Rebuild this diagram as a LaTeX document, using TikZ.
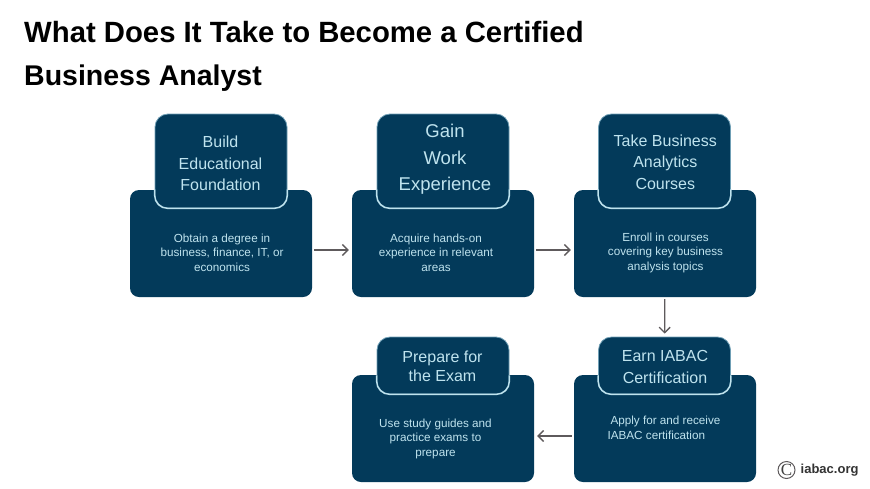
\documentclass[tikz,border=0pt]{standalone}
\usepackage{fontspec}
\setmainfont{Liberation Sans}
\newfontfamily\logoserif{Liberation Serif}
\usetikzlibrary{arrows.meta}
\definecolor{navy}{HTML}{033A5A}
\definecolor{pale}{HTML}{BFE3EE}
\definecolor{faint}{HTML}{6F9FB5}
\definecolor{arrowgrey}{HTML}{5E5A5C}
\tikzset{
  base/.style={fill=navy,rounded corners=9pt,minimum width=182pt,minimum height=107pt,inner sep=0pt},
  tab/.style={fill=navy,draw=faint,line width=.8pt,rounded corners=13pt,minimum width=132pt,inner sep=0pt},
  tabedge/.style={draw=pale,line width=1.4pt,rounded corners=13pt},
  tabtext/.style={text=pale,align=center,inner sep=0pt,font=\fontsize{16}{21.5}\selectfont},
  bigtext/.style={tabtext,font=\fontsize{18.5}{26.5}\selectfont},
  body/.style={text=pale,align=center,font=\fontsize{11.7}{14.5}\selectfont,inner sep=0pt},
  flow/.style={draw=arrowgrey,line width=1.3pt,shorten >=3pt,shorten <=2pt,-{Straight Barb[length=5.5pt,width=11pt]}},
  headline/.style={anchor=west,inner sep=0pt,text=black}
}
\begin{document}
\begin{tikzpicture}[x=1pt,y=-1pt]
\useasboundingbox (0,0) rectangle (870,488);
\node[headline,font=\fontsize{29.3}{30}\selectfont\bfseries] (t1) at (24,32) {What Does It Take to Become a Certified};
\node[headline,font=\fontsize{28.5}{30}\selectfont\bfseries] (t2) at (24,78) {Business Analyst};

\node[base] (b1) at (221,243.5) {};
\node[base] (b2) at (443,243.5) {};
\node[base] (b3) at (665,243.5) {};
\node[base] (b4) at (665,428.5) {};
\node[base] (b5) at (443,428.5) {};

\node[tab,minimum height=94pt] (h1) at (221,161) {};
\node[tab,minimum height=94pt] (h2) at (443,161) {};
\node[tab,minimum height=94pt] (h3) at (664.5,161) {};
\node[tab,minimum height=57pt] (h4) at (664.5,365.5) {};
\node[tab,minimum height=57pt] (h5) at (443,365.5) {};

\foreach \h in {h1,h2,h3,h4,h5}
  \draw[tabedge] ([yshift=19pt]\h.south west) -- (\h.south west) -- (\h.south east) -- ([yshift=19pt]\h.south east);

\node[tabtext] (n1) at (220.5,163.5) {Build\\Educational\\Foundation};
\node[bigtext] (n2) at (445,159.5) {Gain\\Work\\Experience};
\node[tabtext] (n3) at (665.3,162) {Take Business\\Analytics\\Courses};
\node[tabtext] (n4) at (665,367) {Earn IABAC\\Certification};
\node[tabtext,font=\fontsize{16}{19}\selectfont] (n5) at (442.5,366) {Prepare for\\the Exam};

\node[body] (d1) at (222,252.5) {Obtain a degree in\\business, finance, IT, or\\economics};
\node[body] (d2) at (436,252.5) {Acquire hands-on\\experience in relevant\\areas};
\node[body] (d3) at (665.5,252.5) {Enroll in courses\\covering key business\\analysis topics};
\node[body,align=left] (d4) at (664,428) {\hspace*{3pt}Apply for and receive\\IABAC certification};
\node[body] (d5) at (435.5,438.5) {Use study guides and\\practice exams to\\prepare};

\draw[flow] ([yshift=-6.5pt]b1.east) -- ([yshift=-6.5pt]b2.west);
\draw[flow] ([yshift=-6.5pt]b2.east) -- ([yshift=-6.5pt]b3.west);
\draw[flow] (b3) -- (h4);
\draw[flow] ([yshift=-7.5pt]b4.west) -- ([yshift=-7.5pt]b5.east);

\node[draw=arrowgrey,circle,line width=1pt,minimum size=17pt,inner sep=0pt,font=\logoserif\fontsize{17}{17}\selectfont,text=black!75] (c) at (786.5,470) {C};
\node[anchor=west,inner sep=0pt,font=\fontsize{13}{13}\selectfont\bfseries,text=black!80] (l) at (800.5,470) {iabac.org};
\end{tikzpicture}
\end{document}
